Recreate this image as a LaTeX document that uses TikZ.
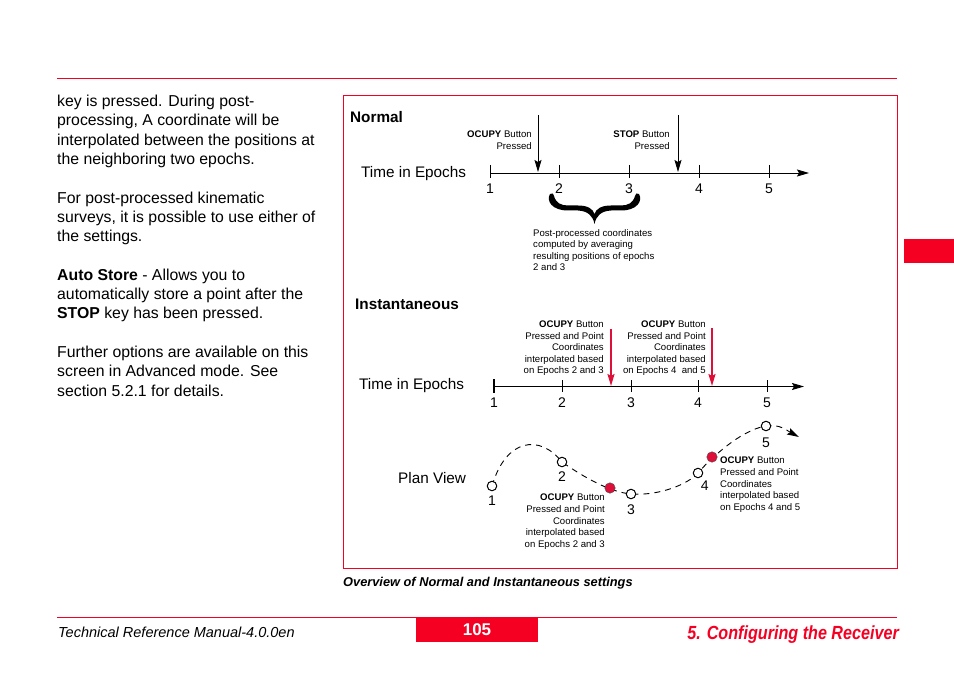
\documentclass[tikz,border=0pt]{standalone}
\usepackage{fontspec}
\setmainfont{Liberation Sans}
\newfontfamily\condfont[FakeStretch=0.85]{Liberation Sans}
\usepackage{xcolor}
\usepackage{tikz}
\usetikzlibrary{arrows.meta, positioning}
\definecolor{pagered}{RGB}{245,0,35}
\definecolor{markred}{RGB}{222,16,58}

\begin{document}
\begin{tikzpicture}[
  x=1pt, y=-1pt,
  body/.style={anchor=north west, align=left, inner sep=0, font=\fontsize{15.8}{19.3}\selectfont},
  note/.style={inner sep=0, font=\fontsize{9.6}{11.6}\selectfont},
  heading/.style={anchor=west, inner sep=0, font=\fontsize{15.3}{18}\selectfont\bfseries},
  axislabel/.style={anchor=west, inner sep=0, font=\fontsize{15.3}{18}\selectfont},
  num/.style={inner sep=0, font=\fontsize{14}{16}\selectfont},
  epoch/.style={circle, draw, line width=1pt, fill=white, minimum size=9.5pt, inner sep=0},
  press/.style={circle, draw=black!70, fill=markred, minimum size=10.5pt, inner sep=0},
  pressarrow/.style={-{Stealth[length=12pt, width=7pt, inset=2pt]}}
]
  \useasboundingbox (0,0) rectangle (954,674);

  % page rules
  \draw[pagered, line width=1pt] (57,79) -- (897,79);
  \fill[pagered] (904,239) rectangle (954,263);

  % column text
  \node[body] (text) at (57,95) {key is pressed. During post-\\
    processing, A coordinate will be\\
    interpolated between the positions at\\
    the neighboring two epochs.\\[19.3pt]
    For post-processed kinematic\\
    surveys, it is possible to use either of\\
    the settings.\\[19.3pt]
    \textbf{Auto Store} - Allows you to\\
    automatically store a point after the\\
    \textbf{STOP} key has been pressed.\\[19.3pt]
    Further options are available on this\\
    screen in Advanced mode. See\\
    section 5.2.1 for details.};

  % figure frame
  \draw[pagered, line width=0.9pt] (343,95) rectangle (897,568);
  \node[anchor=west, inner sep=0, font=\fontsize{12.8}{14}\selectfont\bfseries\itshape] (caption) at (343,583) {Overview of Normal and Instantaneous settings};

  % Normal
  \node[heading] (normal) at (350,117) {Normal};
  \node[axislabel] (time1) at (361,174) {Time in Epochs};
  \coordinate (start1) at (490,173);
  \coordinate (end1) at (809,173);
  \draw[line width=0.9pt, pressarrow] (start1) -- (end1);
  \foreach \i/\x in {1/490, 2/559, 3/629, 4/699, 5/769} {
    \draw[line width=0.9pt] (\x,165) -- (\x,178);
    \node[num] (n\i) at (\x,189) {\i};
  }
  \coordinate (ocupytop) at (538,115);
  \coordinate (ocupytip) at (538,172);
  \coordinate (stoptop) at (678,115);
  \coordinate (stoptip) at (678,172);
  \draw[line width=0.9pt, pressarrow] (ocupytop) -- (ocupytip);
  \draw[line width=0.9pt, pressarrow] (stoptop) -- (stoptip);
  \node[note, anchor=north east, align=right] (ocupylbl) at (532,131) {\textbf{OCUPY} Button\\Pressed};
  \node[note, anchor=north east, align=right] (stoplbl) at (670,131) {\textbf{STOP} Button\\Pressed};
  % brace under epochs 2 and 3
  \fill (550,194) .. controls (546,201) and (552,210.5) .. (568,210.5) -- (578,210.5)
        .. controls (588,211) and (593,216) .. (594.5,224)
        .. controls (596,216) and (601,211) .. (611,210.5) -- (621,210.5)
        .. controls (637,210.5) and (643,201) .. (639,194)
        .. controls (637,192.5) and (635,193.5) .. (635,196)
        .. controls (633,203) and (628,205.5) .. (621,205.5) -- (611,205.5)
        .. controls (601,205.5) and (596,209) .. (594.5,214)
        .. controls (593,209) and (588,205.5) .. (578,205.5) -- (568,205.5)
        .. controls (561,205.5) and (556,203) .. (554,196)
        .. controls (554,193.5) and (552,192.5) .. (550,194) -- cycle;
  \node[note, anchor=north west, align=left] (avg) at (533,229) {Post-processed coordinates\\computed by averaging\\resulting positions of epochs\\2 and 3};

  % Instantaneous
  \node[heading] (inst) at (355,304) {Instantaneous};
  \node[axislabel] (time2) at (359,386) {Time in Epochs};
  \coordinate (start2) at (494,386.5);
  \coordinate (end2) at (804,386.5);
  \draw[line width=0.9pt, pressarrow] (start2) -- (end2);
  \draw[line width=2pt] (494,379) -- (494,393);
  \foreach \i/\x in {2/562, 3/631, 4/698, 5/767} {
    \draw[line width=0.9pt] (\x,380) -- (\x,392);
  }
  \foreach \i/\x in {1/494, 2/562, 3/631, 4/698, 5/767} {
    \node[num] (m\i) at (\x,403) {\i};
  }
  \coordinate (inst1top) at (611,329);
  \coordinate (inst1tip) at (611,386);
  \coordinate (inst2top) at (712,328);
  \coordinate (inst2tip) at (712,386);
  \draw[markred, line width=1.8pt, pressarrow] (inst1top) -- (inst1tip);
  \draw[markred, line width=1.8pt, pressarrow] (inst2top) -- (inst2tip);
  \node[note, anchor=north east, align=right] (inst1lbl) at (604,320.5) {\textbf{OCUPY} Button\\Pressed and Point\\Coordinates\\interpolated based\\on Epochs 2 and 3};
  \node[note, anchor=north east, align=right] (inst2lbl) at (706,320.5) {\textbf{OCUPY} Button\\Pressed and Point\\Coordinates\\interpolated based\\on Epochs 4\ \ and 5};

  % plan view
  \node[axislabel] (plan) at (398,478) {Plan View};
  \coordinate (p1) at (492,486);
  \coordinate (p2) at (562,462);
  \coordinate (p3) at (631,494);
  \coordinate (p4) at (698,473);
  \coordinate (p5) at (766,426);
  \coordinate (pend) at (799,437);
  \draw[line width=0.9pt, dash pattern=on 6pt off 5pt, pressarrow]
    (p1) .. controls (506,438) and (540,434) .. (p2)
         .. controls (585,478) and (610,492) .. (p3)
         .. controls (660,496) and (688,484) .. (p4)
         .. controls (708,461) and (740,430) .. (p5)
         .. controls (780,424) and (786,430) .. (pend);
  \foreach \i in {1,...,5} {
    \node[epoch] (e\i) at (p\i) {};
  }
  \node[num, below=4pt of e1] (l1) {1};
  \node[num, below=4pt of e2] (l2) {2};
  \node[num, below=5pt of e3] (l3) {3};
  \node[num, below right=4pt and -1pt of e4] (l4) {4};
  \node[num, below=6pt of e5] (l5) {5};
  \node[press] (hit1) at (610,488) {};
  \node[press] (hit2) at (712,457) {};
  \node[note, anchor=north east, align=right] (hit1lbl) at (605,494) {\textbf{OCUPY} Button\\Pressed and Point\\Coordinates\\interpolated based\\on Epochs 2 and 3};
  \node[note, anchor=north west, align=left] (hit2lbl) at (720,457) {\textbf{OCUPY} Button\\Pressed and Point\\Coordinates\\interpolated based\\on Epochs 4 and 5};

  % footer
  \draw[pagered, line width=1.3pt] (57,617.5) -- (897,617.5);
  \node[fill=pagered, minimum width=122pt, minimum height=24pt, inner sep=0, text=white, font=\fontsize{17}{19}\selectfont\bfseries] (page) at (477,630) {105};
  \node[anchor=west, inner sep=0, font=\fontsize{14.5}{16}\selectfont\itshape] (manual) at (58,632) {Technical Reference Manual-4.0.0en};
  \node[anchor=east, inner sep=0, text=pagered, font=\condfont\fontsize{19}{21}\selectfont\bfseries\itshape] (chapter) at (899,635) {5. Configuring the Receiver};
\end{tikzpicture}
\end{document}
